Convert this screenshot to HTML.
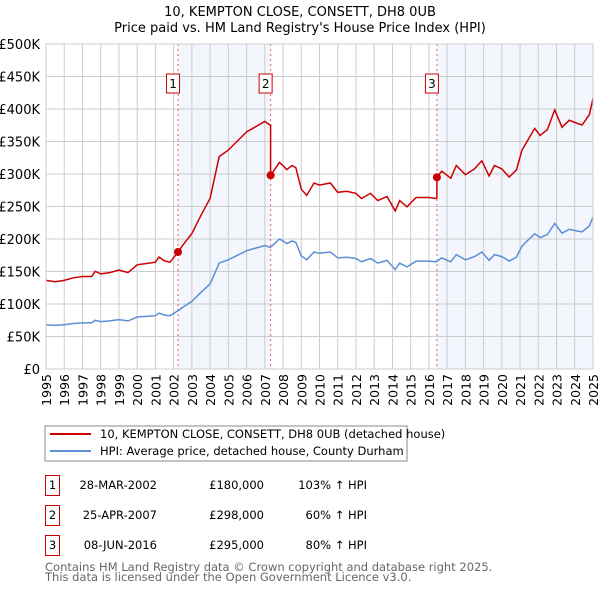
<!DOCTYPE html>
<html><head><meta charset="utf-8"><style>
body{margin:0;background:#fff;width:600px;height:590px;overflow:hidden;font-family:"DejaVu Sans","Liberation Sans",sans-serif;}
svg text{font-family:"DejaVu Sans","Liberation Sans",sans-serif;}
</style></head><body>
<svg id="chart" width="600" height="590" xmlns="http://www.w3.org/2000/svg"></svg>
<script>
const hpiYears=[1995.0,1995.5,1996.0,1996.5,1997.0,1997.5,1997.7,1998.0,1998.5,1999.0,1999.5,2000.0,2000.5,2001.0,2001.2,2001.5,2001.8,2002.2,2002.5,2003.0,2003.5,2004.0,2004.5,2005.0,2005.5,2006.0,2006.5,2007.0,2007.3,2007.5,2007.8,2008.0,2008.2,2008.5,2008.7,2009.0,2009.3,2009.7,2010.0,2010.6,2011.0,2011.5,2012.0,2012.3,2012.8,2013.2,2013.7,2014.15,2014.4,2014.8,2015.3,2016.0,2016.4,2016.7,2017.2,2017.5,2018.0,2018.5,2018.9,2019.3,2019.6,2020.0,2020.4,2020.8,2021.1,2021.5,2021.8,2022.1,2022.5,2022.9,2023.3,2023.7,2024.2,2024.4,2024.8,2025.0];
const hpiValues=[68,67,68,70,71,71,75,73,74,76,74,80,81,82,86,83,82,89,95,104,118,131,163,168,175,182,186,190,187,192,200,197,193,197,195,174,168,180,178,180,171,172,170,165,170,163,167,153,163,157,166,166,165,171,165,176,168,173,180,167,176,173,166,172,189,200,208,202,207,224,209,215,212,211,220,234];
const saleYears=[2002.24,2007.32,2016.44];
const salePrices=[180,298,295];
const saleLabels=["1","2","3"];
const saleDates=["28-MAR-2002","25-APR-2007","08-JUN-2016"];
const salePriceText=["£180,000","£298,000","£295,000"];
const saleHpiText=["103% ↑ HPI","60% ↑ HPI","80% ↑ HPI"];
const yTicks=[0,50,100,150,200,250,300,350,400,450,500];
const yTickLabels=["£0","£50K","£100K","£150K","£200K","£250K","£300K","£350K","£400K","£450K","£500K"];
const xTicks=[1995,1996,1997,1998,1999,2000,2001,2002,2003,2004,2005,2006,2007,2008,2009,2010,2011,2012,2013,2014,2015,2016,2017,2018,2019,2020,2021,2022,2023,2024,2025];

const NS="http://www.w3.org/2000/svg";
const svg=document.getElementById('chart');
const L=46,R=593,T=44,B=369;
const X=y=>L+(y-1995)/(2025-1995)*(R-L);
const Y=v=>B-v/500*(B-T);
function el(t,a,p){const e=document.createElementNS(NS,t);for(const k in a)e.setAttribute(k,a[k]);(p||svg).appendChild(e);return e;}
function hpiAt(y){for(let i=1;i<hpiYears.length;i++){if(y<=hpiYears[i]){const f=(y-hpiYears[i-1])/(hpiYears[i]-hpiYears[i-1]);return hpiValues[i-1]+f*(hpiValues[i]-hpiValues[i-1]);}}return hpiValues[hpiValues.length-1];}

let t=el('text',{x:300,y:16,'text-anchor':'middle','font-size':13,fill:'#000'});t.textContent="10, KEMPTON CLOSE, CONSETT, DH8 0UB";

t=el('text',{x:300,y:32,'text-anchor':'middle','font-size':13,fill:'#000'});t.textContent="Price paid vs. HM Land Registry's House Price Index (HPI)";


let sh=el('rect',{x:X(saleYears[0]),y:T,width:X(saleYears[1])-X(saleYears[0]),height:B-T,fill:'#eef2fb',opacity:0.7});

sh=el('rect',{x:X(saleYears[2]),y:T,width:R-X(saleYears[2]),height:B-T,fill:'#eef2fb',opacity:0.7});


yTicks.forEach((v,i)=>{
 const g=el('line',{x1:L,x2:R,y1:Y(v),y2:Y(v),stroke:'#ccc','stroke-width':1});
 
 const tx=el('text',{x:L-6,y:Y(v)+5,'text-anchor':'end','font-size':13,fill:'#000'});tx.textContent=yTickLabels[i];
 
});
xTicks.forEach(yr=>{
 const g=el('line',{x1:X(yr),x2:X(yr),y1:T,y2:B,stroke:'#ccc','stroke-width':1});
 
 const tx=el('text',{x:0,y:0,'text-anchor':'end','font-size':12.5,fill:'#000',transform:`translate(${X(yr)+5},${B+5}) rotate(-90)`});tx.textContent=yr;
 
});

saleYears.forEach((sy,i)=>{
 const v=el('line',{x1:X(sy),x2:X(sy),y1:T,y2:B,stroke:'#e06060','stroke-width':1,'stroke-dasharray':'2,3'});
 
 const cx=X(sy)-5;
 const r=el('rect',{x:cx-6.5,y:74,width:13,height:19,fill:'#fff',stroke:'#c00','stroke-width':1});
 
 const tx=el('text',{x:cx,y:88,'text-anchor':'middle','font-size':12,fill:'#000'});tx.textContent=saleLabels[i];
 
});

let dH=hpiYears.map((y,i)=>(i?'L':'M')+X(y).toFixed(1)+','+Y(hpiValues[i]).toFixed(1)).join('');
const hp=el('path',{d:dH,fill:'none',stroke:'#5b8fd6','stroke-width':1.5});


const pts=[];
const ratios=saleYears.map((sy,i)=>salePrices[i]/hpiAt(sy));
function ratioAt(y){let r=ratios[0];for(let i=0;i<saleYears.length;i++)if(y>=saleYears[i])r=ratios[i];return r;}
const allYears=hpiYears.concat(saleYears).sort((a,b)=>a-b);
allYears.forEach(y=>{
 saleYears.forEach((sy,i)=>{if(Math.abs(y-sy)<1e-9&&i>0){pts.push([X(sy),Y(hpiAt(sy)*ratios[i-1])]);}});
 pts.push([X(y),Y(hpiAt(y)*ratioAt(y))]);
});
const pp=el('path',{d:pts.map((p,i)=>(i?'L':'M')+p[0].toFixed(1)+','+p[1].toFixed(1)).join(''),fill:'none',stroke:'#cc0000','stroke-width':1.5});

saleYears.forEach((sy,i)=>{
 const c=el('circle',{cx:X(sy),cy:Y(salePrices[i]),r:4,fill:'#cc0000'});
 
});
const ax=el('rect',{x:L,y:T,width:R-L,height:B-T,fill:'none',stroke:'#ccc'});


const lg=el('rect',{x:45,y:426,width:362,height:35,fill:'#fff',stroke:'#888','stroke-width':1});

let ll=el('line',{x1:50,x2:91,y1:434,y2:434,stroke:'#cc0000','stroke-width':2});

t=el('text',{x:100,y:438,'font-size':11.5,fill:'#000'});t.textContent="10, KEMPTON CLOSE, CONSETT, DH8 0UB (detached house)";

ll=el('line',{x1:50,x2:91,y1:451,y2:451,stroke:'#5b8fd6','stroke-width':2});

t=el('text',{x:100,y:455,'font-size':11.5,fill:'#000'});t.textContent="HPI: Average price, detached house, County Durham";


saleYears.forEach((sy,i)=>{
 const ry=475+i*30;
 const b=el('rect',{x:45.5,y:ry+0.5,width:14,height:20,fill:'#fff',stroke:'#c00'});
 
 let a=el('text',{x:52.5,y:ry+14,'text-anchor':'middle','font-size':11.5});a.textContent=saleLabels[i];
 
 a=el('text',{x:157,y:ry+14,'text-anchor':'end','font-size':11.5});a.textContent=saleDates[i];
 
 a=el('text',{x:264,y:ry+14,'text-anchor':'end','font-size':11.5});a.textContent=salePriceText[i];
 
 a=el('text',{x:367,y:ry+14,'text-anchor':'end','font-size':11.5});a.textContent=saleHpiText[i];
 
});
t=el('text',{x:45,y:571,'font-size':11.5,fill:'#666'});t.textContent="Contains HM Land Registry data © Crown copyright and database right 2025.";

t=el('text',{x:45,y:581,'font-size':11.5,fill:'#666'});t.textContent="This data is licensed under the Open Government Licence v3.0.";

</script>
</body></html>
